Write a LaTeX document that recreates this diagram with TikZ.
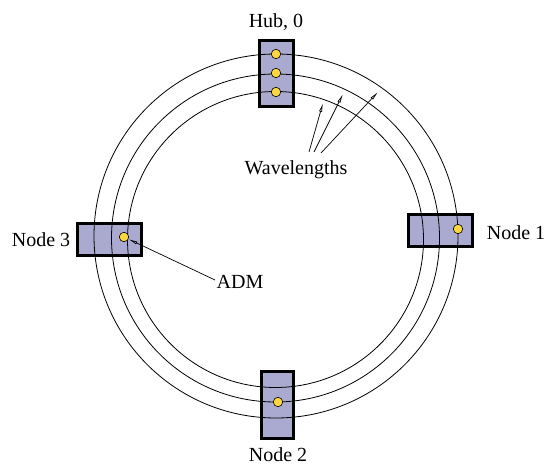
\documentclass[tikz,border=0pt]{standalone}
\usepackage{fontspec}
\setmainfont{Liberation Serif}
\usetikzlibrary{arrows.meta}
\definecolor{boxfill}{RGB}{170,170,208}
\definecolor{dotfill}{RGB}{250,214,64}
\tikzset{
  nodebox/.style={rectangle, fill=boxfill, inner sep=0pt, outer sep=0pt},
  boxframe/.style={rectangle, draw=black, line width=2.6pt, inner sep=0pt, outer sep=0pt},
  adm/.style={circle, draw=black, fill=dotfill, line width=0.6pt, minimum size=9.5pt, inner sep=0pt},
  ring/.style={line width=0.8pt},
  lbl/.style={font=\fontsize{20}{23}\selectfont, inner sep=0pt, anchor=base},
  ptr/.style={line width=0.7pt, -{Latex[open,length=9pt,width=3.2pt]}},
}
\begin{document}
\begin{tikzpicture}[x=1pt,y=-1pt]
\useasboundingbox (0,0) rectangle (547,465);
% box fills
\node[nodebox, minimum width=34.5pt, minimum height=66.5pt] (hubf) at (276.5,73.5) {};
\node[nodebox, minimum width=64.5pt, minimum height=32.5pt] (n1f) at (440.5,230.5) {};
\node[nodebox, minimum width=32.5pt, minimum height=67.5pt] (n2f) at (277.5,405) {};
\node[nodebox, minimum width=64.5pt, minimum height=32.5pt] (n3f) at (109.5,239.5) {};
% rings
\draw[ring] (276,236) circle[radius=182pt];
\draw[ring] (275.5,238) circle[radius=164pt];
\draw[ring] (275.5,239.5) circle[radius=148pt];
% box frames
\node[boxframe, minimum width=34.5pt, minimum height=66.5pt] (hub) at (276.5,73.5) {};
\node[boxframe, minimum width=64.5pt, minimum height=32.5pt] (n1) at (440.5,230.5) {};
\node[boxframe, minimum width=32.5pt, minimum height=67.5pt] (n2) at (277.5,405) {};
\node[boxframe, minimum width=64.5pt, minimum height=32.5pt] (n3) at (109.5,239.5) {};
% ADM dots
\node[adm] (h1) at (276,54) {};
\node[adm] (h2) at (276,73) {};
\node[adm] (h3) at (276,92) {};
\node[adm] (d1) at (458,229) {};
\node[adm] (d2) at (278,402) {};
\node[adm] (d3) at (124,237) {};
% labels
\node[lbl] (lhub) at (276,28) {Hub, 0};
\node[lbl] (l1) at (516,240) {Node 1};
\node[lbl] (l2) at (278,461.5) {Node 2};
\node[lbl] (l3) at (41,247) {Node 3};
\node[lbl] (lw) at (296,175) {Wavelengths};
\node[lbl] (ladm) at (240,289) {ADM};
% wavelength pointers
\coordinate (t1) at (309,152);
\coordinate (t2) at (314,152);
\coordinate (t3) at (321,153);
\coordinate (w1) at (323,103);
\coordinate (w2) at (343,94);
\coordinate (w3) at (378,92);
\draw[ptr] (t1) -- (w1);
\draw[ptr] (t2) -- (w2);
\draw[ptr] (t3) -- (w3);
% ADM pointer
\coordinate (a0) at (215,280);
\draw[ptr] (a0) -- (d3);
\end{tikzpicture}
\end{document}
